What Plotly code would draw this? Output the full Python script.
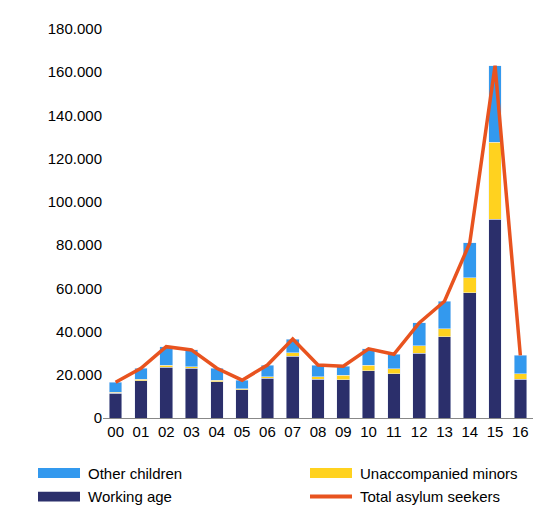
import plotly.graph_objects as go

years = ["00","01","02","03","04","05","06","07","08","09","10","11","12","13","14","15","16"]
working = [11400,17300,23600,23000,16800,13000,18500,28600,18000,17700,21800,20400,30000,37700,58000,92000,18000]
unacc   = [500,600,700,700,600,500,700,1500,1200,2000,2500,2500,3500,3500,7000,35700,2500]
total   = [16500,23000,33000,31500,23000,17500,24500,36500,24500,24000,32000,29500,44000,54000,81000,163000,29000]
other = [t-w-u for t,w,u in zip(total,working,unacc)]

C_W, C_U, C_O, C_T = "#2b2f6b", "#ffd21f", "#3399ee", "#e8531f"

fig = go.Figure()
fig.add_bar(x=years, y=working, name="Working age", marker_color=C_W)
fig.add_bar(x=years, y=unacc, name="Unaccompanied minors", marker_color=C_U)
fig.add_bar(x=years, y=other, name="Other children", marker_color=C_O)
fig.add_scatter(x=years, y=total, name="Total asylum seekers", mode="lines",
                line=dict(color=C_T, width=3.5))

W, H = 542, 508
L, R, T, B = 95, 17, 14, 98
PW, PH = W - L - R, H - T - B
# pixel coordinates below are of the page after the 8px offset of the plot area
def px(x): return (x - L) / PW
def py(y): return (H - B - y) / PH

legend = [("Other children", C_O, 30, 466, "bar"),
          ("Unaccompanied minors", C_U, 302, 466, "bar"),
          ("Working age", C_W, 30, 490, "bar"),
          ("Total asylum seekers", C_T, 302, 490, "line")]
shapes, annos = [], []
for name, c, x0, yc, kind in legend:
    if kind == "bar":
        shapes.append(dict(type="rect", xref="paper", yref="paper", x0=px(x0), x1=px(x0+42),
                           y0=py(yc+5), y1=py(yc-5), fillcolor=c, line=dict(width=0)))
    else:
        shapes.append(dict(type="line", xref="paper", yref="paper", x0=px(x0), x1=px(x0+42),
                           y0=py(yc), y1=py(yc), line=dict(color=c, width=4)))
    annos.append(dict(xref="paper", yref="paper", x=px(x0+48), y=py(yc), text=name,
                      showarrow=False, xanchor="left", yanchor="middle", font=dict(size=15)))

fig.update_layout(
    width=W, height=H, barmode="stack", bargap=0.5, showlegend=False,
    separators=",.", plot_bgcolor="white", paper_bgcolor="white",
    font=dict(family="Liberation Sans, Arial", size=15, color="#000"),
    margin=dict(l=L, r=R, t=T, b=B),
    xaxis=dict(showline=True, linecolor="#888", ticks="", tickfont=dict(size=15)),
    yaxis=dict(range=[0,180000], dtick=20000, tickformat=",", showgrid=False,
               showline=False, ticks="", tickfont=dict(size=15)),
    shapes=shapes, annotations=annos,
)
fig.write_html("out.html")
